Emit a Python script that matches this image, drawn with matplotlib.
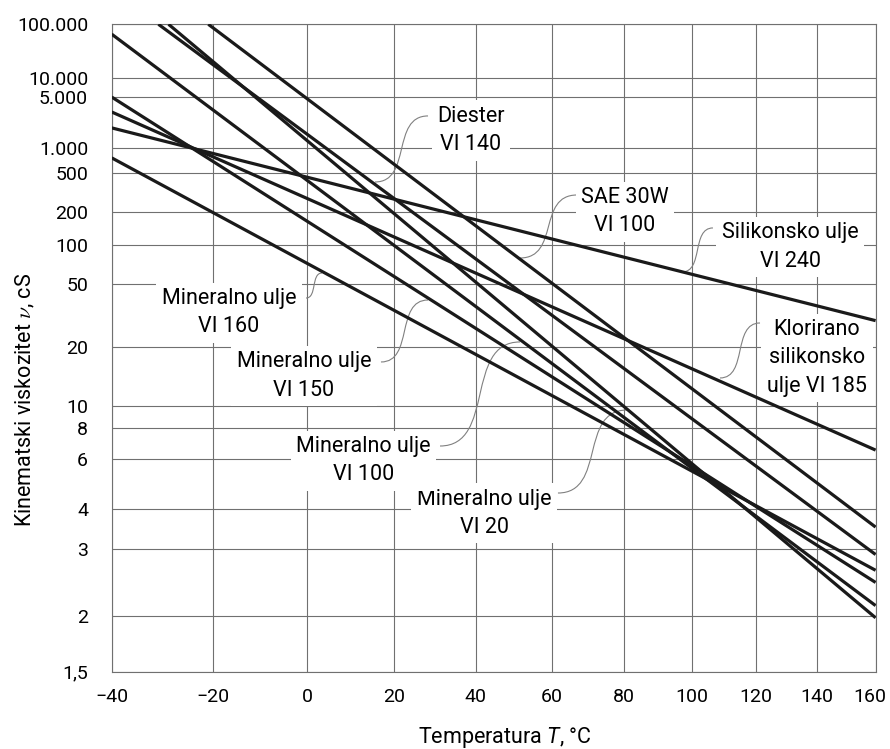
import numpy as np
import matplotlib
matplotlib.use("Agg")
import matplotlib.pyplot as plt
from matplotlib.path import Path
from matplotlib.patches import PathPatch
from matplotlib.transforms import ScaledTranslation

plt.rcParams['font.family'] = ['Roboto', 'DejaVu Sans']
plt.rcParams['mathtext.fontset'] = 'custom'
plt.rcParams['mathtext.rm'] = 'Roboto'
plt.rcParams['mathtext.it'] = 'Roboto:italic'

# each oil is a straight line on the chart, given by two read points (T in °C, viscosity in cS)
names = ["Silikonsko ulje\nVI 240", "Klorirano\nsilikonsko\nulje VI 185", "SAE 30W\nVI 100",
         "Diester\nVI 140", "Mineralno ulje\nVI 20", "Mineralno ulje\nVI 100",
         "Mineralno ulje\nVI 150", "Mineralno ulje\nVI 160"]
t_start = [-40, -40, -21, -31, -29, -40, -40, -40]
v_start = [1800, 3000, 100000, 100000, 100000, 63000, 5000, 750]
t_end = [160, 160, 160, 160, 160, 160, 160, 160]
v_end = [28.5, 6.5, 3.5, 2.9, 1.98, 2.12, 2.43, 2.62]

y_ticks = [1.5, 2, 3, 4, 6, 8, 10, 20, 50, 100, 200, 500, 1000, 5000, 10000, 100000]
y_ticklabels = ["1,5", "2", "3", "4", "6", "8", "10", "20", "50", "100", "200", "500",
                "1.000", "5.000", "10.000", "100.000"]
x_ticks = [-40, -20, 0, 20, 40, 60, 80, 100, 120, 140, 160]
x_ticklabels = ["\u221240", "\u221220", "0", "20", "40", "60", "80", "100", "120", "140", "160"]

# label text centre and leader (start -> tip), in axes fractions
label_pos = [(0.888, 0.656), (0.9233, 0.4846), (0.672, 0.7105), (0.4704, 0.836),
             (0.4874, 0.2447), (0.3296, 0.3258), (0.2517, 0.4568), (0.1536, 0.5544)]
leaders = [((0.7871, 0.6854), (0.7466, 0.6174)), ((0.8487, 0.5386), (0.7963, 0.4537)),
           ((0.6091, 0.7363), (0.5345, 0.6390)), ((0.4141, 0.8584), (0.3447, 0.7564)),
           ((0.5842, 0.2760), (0.6746, 0.4042)), ((0.4298, 0.3486), (0.5345, 0.5093)),
           ((0.3525, 0.4784), (0.4141, 0.5741)), ((0.2544, 0.5772), (0.2753, 0.6158))]


def fx(t):
    return np.log10(np.maximum(np.asarray(t, float), -270) + 273.15)


def fx_inv(u):
    return 10 ** np.asarray(u, float) - 273.15


def fy(v):
    v = np.maximum(np.asarray(v, float), 0.4)
    return np.log10(np.log10(v + 0.7))


def fy_inv(u):
    with np.errstate(over='ignore'):
        return 10 ** (10 ** np.clip(np.asarray(u, float), -2, 1.2)) - 0.7


fig = plt.figure(figsize=(8.9, 7.49), dpi=100)
ax = fig.add_axes([0.1255, 0.1032, 0.8583, 0.8644])
ax.set_xscale('function', functions=(fx, fx_inv))
ax.set_yscale('function', functions=(fy, fy_inv))

for i in range(len(names)):
    ax.plot([t_start[i], t_end[i]], [v_start[i], v_end[i]], color='#1a1a1a', lw=2.3,
            solid_capstyle='butt', zorder=6)

ax.set_xlim(-40, 160)
ax.set_ylim(1.5, 100000)
ax.set_xticks(x_ticks)
ax.set_xticklabels(x_ticklabels)
ax.set_yticks(y_ticks)
ax.set_yticklabels(y_ticklabels)
ax.minorticks_off()
ax.tick_params(axis='both', length=0, labelsize=14)
ax.tick_params(axis='y', pad=17)
ax.tick_params(axis='x', pad=12)
ax.grid(True, color='#707070', lw=0.8)
ax.set_axisbelow(True)
for s in ax.spines.values():
    s.set_color('#707070')
    s.set_linewidth(0.8)

# keep the last x label inside the figure
last = ax.get_xticklabels()[-1]
last.set_transform(last.get_transform() + ScaledTranslation(-4 / 72, 0, fig.dpi_scale_trans))

for i, name in enumerate(names):
    (x0, y0), (x1, y1) = leaders[i]
    dx = x1 - x0
    verts = [(x0, y0), (x0 + 0.7 * dx, y0), (x1 - 0.7 * dx, y1), (x1, y1)]
    path = Path(verts, [Path.MOVETO, Path.CURVE4, Path.CURVE4, Path.CURVE4])
    ax.add_patch(PathPatch(path, transform=ax.transAxes, fill=False, edgecolor='#808080',
                           lw=0.8, zorder=4))
    ax.text(label_pos[i][0], label_pos[i][1], name, transform=ax.transAxes, ha='center',
            va='center', fontsize=15.5, linespacing=1.45, zorder=5,
            bbox=dict(facecolor='white', edgecolor='none', pad=4))

fig.text(0.029, 1 - 400 / 749, r'Kinematski viskozitet $\nu$, cS', rotation=90,
         ha='center', va='center', fontsize=15.5, math_fontfamily='cm')
fig.text(0.5674, 0.008, r'Temperatura $\mathit{T}$, °C', ha='center', va='baseline',
         fontsize=15.5)

fig.savefig('out.png', dpi=100, facecolor='white')
